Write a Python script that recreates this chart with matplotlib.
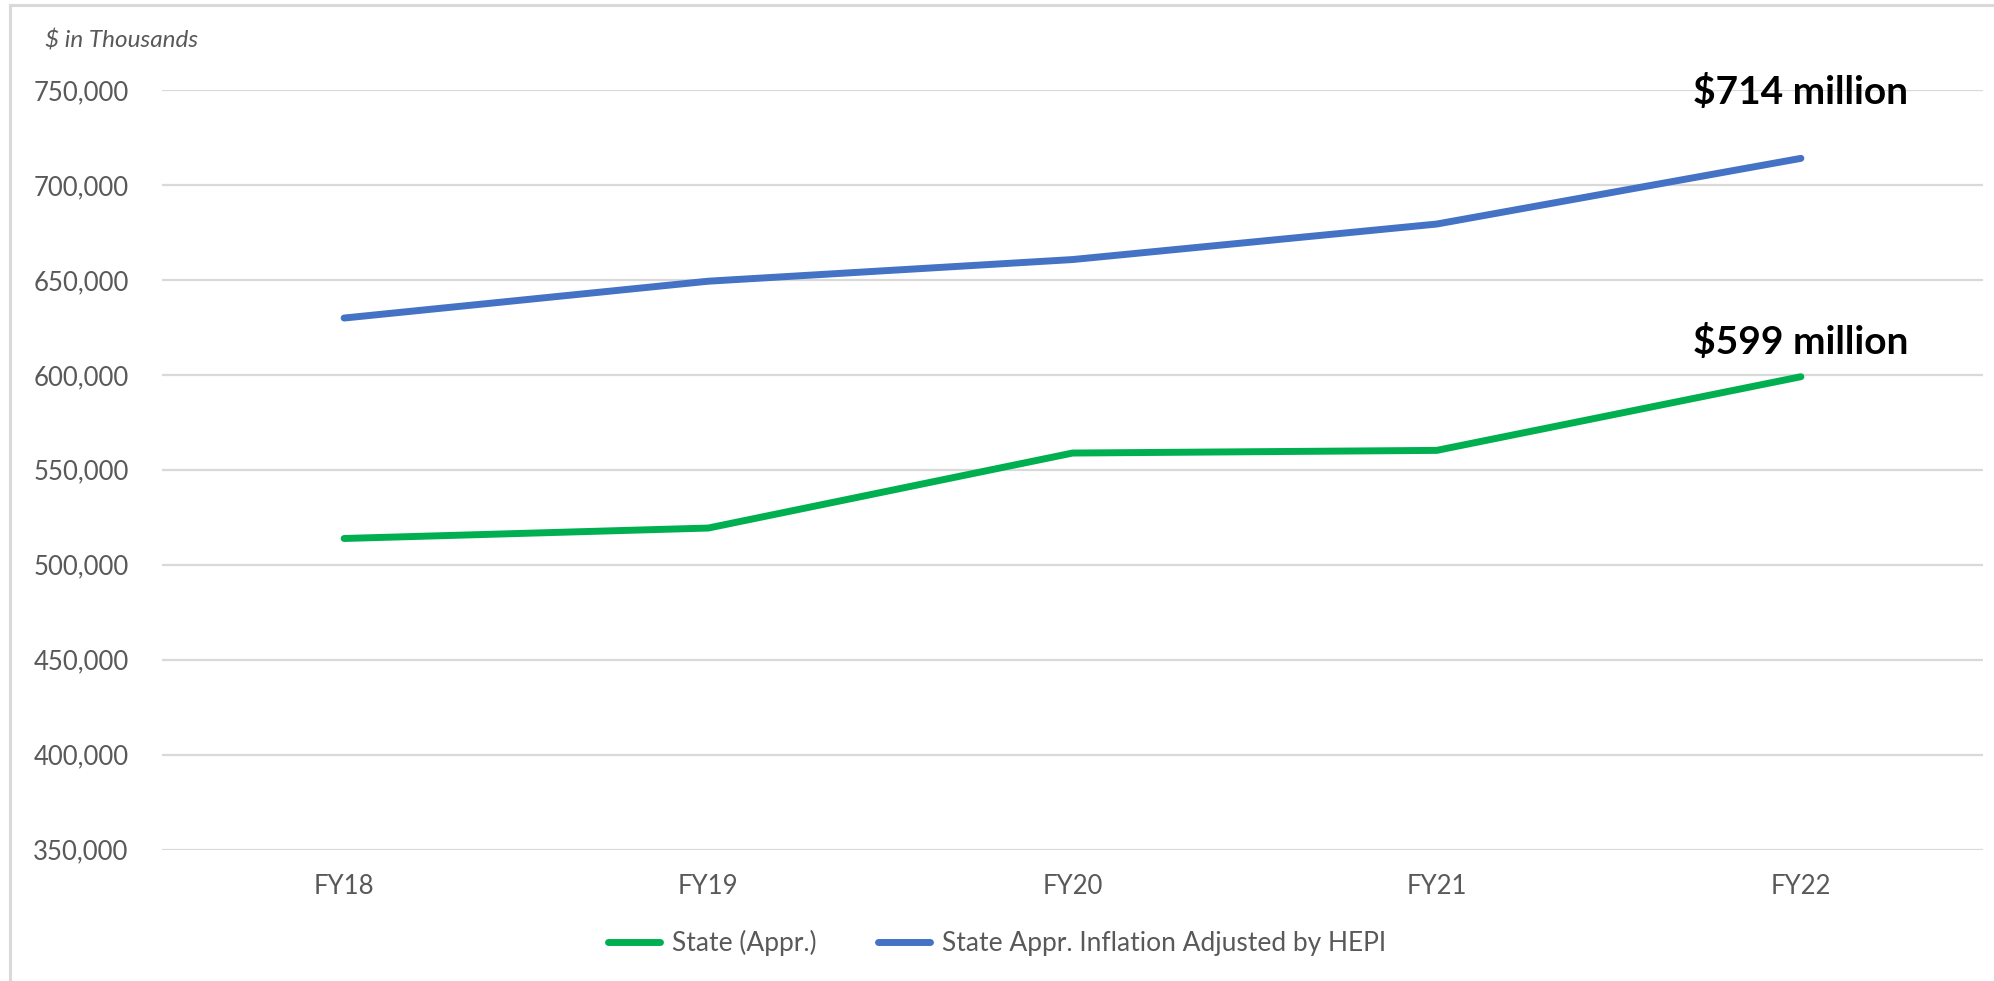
import matplotlib
matplotlib.use("Agg")
import matplotlib.pyplot as plt
from matplotlib.lines import Line2D
from matplotlib.ticker import FuncFormatter

# Fiscal years and appropriations ($ in thousands)
years = ["FY18", "FY19", "FY20", "FY21", "FY22"]
state_appr = [513800, 519300, 558800, 560200, 599000]
state_appr_hepi = [629900, 649300, 660700, 679400, 714000]
series_labels = ["State (Appr.)", "State Appr. Inflation Adjusted by HEPI"]
end_labels = ["$599 million", "$714 million"]
y_ticks = [350000, 400000, 450000, 500000, 550000, 600000, 650000, 700000, 750000]

GREEN = "#00B050"
BLUE = "#4472C4"
GRID = "#D9D9D9"
TEXT = "#595959"
FONT = ["Lato", "DejaVu Sans"]

plt.rcParams["font.family"] = FONT

W, H, DPI = 1994, 981, 100
fig = plt.figure(figsize=(W / DPI, H / DPI), dpi=DPI)

# Light frame on the top and left edges of the chart area
fig.add_artist(Line2D([10 / W, 1.0], [1 - 5 / H, 1 - 5 / H], transform=fig.transFigure,
                      color="#D9D9D9", linewidth=2.2))
fig.add_artist(Line2D([10 / W, 10 / W], [0.0, 1 - 5 / H], transform=fig.transFigure,
                      color="#D9D9D9", linewidth=2.2))

ax = fig.add_axes([162 / W, 1 - 849.5 / H, (1983 - 162) / W, (849.5 - 90) / H])

x = list(range(len(years)))
ax.plot(x, state_appr, color=GREEN, linewidth=5, solid_capstyle="round",
        solid_joinstyle="round", label=series_labels[0], zorder=3)
ax.plot(x, state_appr_hepi, color=BLUE, linewidth=5, solid_capstyle="round",
        solid_joinstyle="round", label=series_labels[1], zorder=3)

ax.set_xlim(-0.5, len(years) - 0.5)
ax.set_ylim(y_ticks[0], y_ticks[-1])
ax.set_yticks(y_ticks)
ax.yaxis.set_major_formatter(FuncFormatter(lambda v, p: f"{int(v):,}"))
ax.set_xticks(x)
ax.set_xticklabels(years)

ax.grid(axis="y", color=GRID, linewidth=1.6, zorder=0)
ax.grid(axis="x", visible=False)
ax.set_axisbelow(True)
for s in ax.spines.values():
    s.set_visible(False)
ax.tick_params(axis="both", length=0, labelsize=18.5, labelcolor=TEXT)
ax.tick_params(axis="y", pad=24)
ax.tick_params(axis="x", pad=18)

# Unit note above the value axis
fig.text(45 / W, 1 - 41 / H, "$ in Thousands", fontsize=17.5, style="italic",
         color=TEXT, ha="left", va="center")

# Final-year value callouts
ax.annotate(end_labels[0], xy=(x[-1], state_appr[-1]), xytext=(0, 16),
            textcoords="offset points", ha="center", va="baseline",
            fontsize=28, fontweight="bold", color="black")
ax.annotate(end_labels[1], xy=(x[-1], state_appr_hepi[-1]), xytext=(0, 39),
            textcoords="offset points", ha="center", va="baseline",
            fontsize=28, fontweight="bold", color="black")

fig.legend(loc="center", bbox_to_anchor=(0.5, 1 - 943 / H), ncol=2,
           frameon=False, fontsize=19, labelcolor=TEXT, handlelength=2.0,
           handletextpad=0.45, columnspacing=2.3)

fig.savefig("out.png", dpi=DPI)
